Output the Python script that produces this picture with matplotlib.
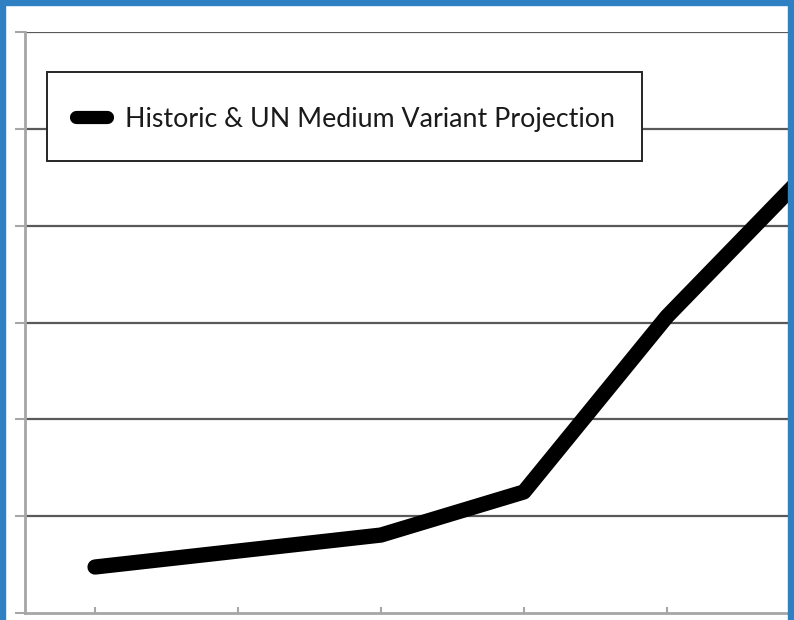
import matplotlib.pyplot as plt
from matplotlib.patches import Rectangle
from matplotlib.lines import Line2D

# category positions (labels are not shown in the source) and series values
periods = [0, 1, 2, 3, 4, 5]
population = [0.475, 0.64, 0.805, 1.25, 3.06, 4.58]
series_label = 'Historic & UN Medium Variant Projection'
gridlines = [1, 2, 3, 4, 5, 6]

W, H = 794, 620
fig = plt.figure(figsize=(W / 100, H / 100), dpi=100)
ax = fig.add_axes([25 / W, 7 / H, (W - 25) / W, 581 / H])

ax.plot(periods, population, color='black', linewidth=11,
        solid_capstyle='round', solid_joinstyle='round',
        label=series_label, zorder=3)

ax.set_xlim(-0.49, 4.89)
ax.set_ylim(0, 6)

# gridlines drawn dark, axes light gray as in Excel
for g in gridlines:
    ax.axhline(g, color='#595959', linewidth=1.6, zorder=1)
ax.set_yticks([0] + gridlines)
ax.set_yticklabels([])
ax.set_xticks(periods[:5])
ax.set_xticklabels([])
ax.tick_params(axis='y', direction='out', length=7, width=1.5, color='#a6a6a6')
ax.tick_params(axis='x', direction='in', length=4, width=1.5, color='#a6a6a6')

for side in ['top', 'right']:
    ax.spines[side].set_visible(False)
for side in ['left', 'bottom']:
    ax.spines[side].set_color('#a6a6a6')
    ax.spines[side].set_linewidth(2)

# legend box, drawn by hand so the handle and text line up like Excel's
def px(x, y):
    return x / W, 1 - y / H

lx0, ly0 = px(47, 161)
lx1, ly1 = px(642, 72)
fig.add_artist(Rectangle((lx0, ly0), lx1 - lx0, ly1 - ly0, transform=fig.transFigure,
                         facecolor='white', edgecolor='#262626', linewidth=1.4, zorder=5))
hx0, hy = px(76, 117)
hx1, _ = px(107, 117)
fig.add_artist(Line2D([hx0, hx1], [hy, hy], transform=fig.transFigure, color='black',
                      linewidth=9.5, solid_capstyle='round', zorder=6))
tx, ty = px(125, 119)
fig.text(tx, ty, series_label, family='Lato', size=19.3, color='#1a1a1a',
         va='center', ha='left', zorder=6)

# blue frame around the picture
blue = '#2f80c2'
fig.patches.append(Rectangle((0, 0), 5 / W, 1, transform=fig.transFigure,
                             color=blue, zorder=10))
fig.patches.append(Rectangle((0, 1 - 5 / H), 1, 5 / H, transform=fig.transFigure,
                             color=blue, zorder=10))
fig.patches.append(Rectangle((1 - 6 / W, 0), 6 / W, 1, transform=fig.transFigure,
                             color=blue, zorder=10))

fig.savefig('out.png', dpi=100)
